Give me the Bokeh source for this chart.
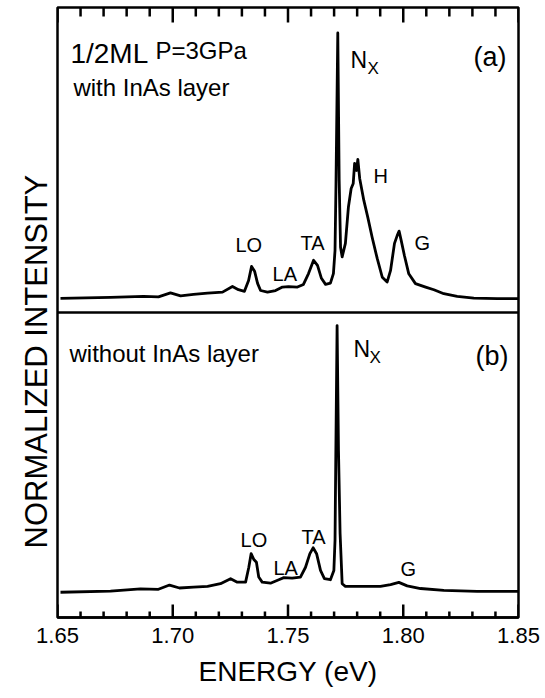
from bokeh.plotting import figure
from bokeh.models import Range1d, Span, Label, Title, FixedTicker, NumeralTickFormatter
from bokeh.embed import file_html
from bokeh.resources import INLINE

# Photoluminescence spectra at P = 3 GPa, normalized to the N_X line.
# (a) sample with a 1/2 ML InAs layer
energy_a = [1.6513, 1.6730, 1.6873, 1.6938, 1.6990, 1.7034, 1.7090, 1.7151, 1.7216,
            1.7259, 1.7285, 1.7311, 1.7329, 1.7342, 1.7355, 1.7368, 1.7381, 1.7411,
            1.7446, 1.7476, 1.7502, 1.7541, 1.7567, 1.7589, 1.7611, 1.7628, 1.7645,
            1.7663, 1.7684, 1.7697, 1.7704, 1.7708, 1.7716, 1.7722, 1.7728, 1.7735,
            1.7749, 1.7762, 1.7774, 1.7783, 1.7789, 1.7797, 1.7803, 1.7811, 1.7829,
            1.7846, 1.7865, 1.7887, 1.7909, 1.7930, 1.7945, 1.7962, 1.7974, 1.7982,
            1.7991, 1.8005, 1.8024, 1.8053, 1.8097, 1.8133, 1.8176, 1.8234, 1.8306,
            1.8408, 1.8500]
intensity_a = [-0.002, 0.002, 0.006, 0.004, 0.019, 0.008, 0.013, 0.018, 0.022,
               0.043, 0.031, 0.025, 0.066, 0.119, 0.101, 0.055, 0.028, 0.022,
               0.028, 0.041, 0.043, 0.041, 0.051, 0.092, 0.142, 0.123, 0.074,
               0.051, 0.056, 0.092, 0.179, 0.417, 1.000, 0.443, 0.191, 0.155,
               0.206, 0.342, 0.413, 0.432, 0.508, 0.481, 0.523, 0.451, 0.368,
               0.305, 0.229, 0.149, 0.078, 0.060, 0.104, 0.206, 0.236, 0.252,
               0.217, 0.160, 0.091, 0.054, 0.041, 0.031, 0.016, 0.006, -0.001,
               -0.003, -0.003]

# (b) reference sample without the InAs layer
energy_b = [1.6513, 1.6730, 1.6860, 1.6938, 1.6986, 1.7029, 1.7090, 1.7151, 1.7207,
            1.7251, 1.7280, 1.7316, 1.7330, 1.7340, 1.7352, 1.7363, 1.7373, 1.7388,
            1.7424, 1.7460, 1.7482, 1.7518, 1.7554, 1.7576, 1.7595, 1.7609, 1.7624,
            1.7641, 1.7658, 1.7684, 1.7699, 1.7704, 1.7707, 1.7713, 1.7719, 1.7726,
            1.7735, 1.7749, 1.7815, 1.7901, 1.7945, 1.7981, 1.8017, 1.8075, 1.8176,
            1.8321, 1.8500]
intensity_b = [-0.003, 0.001, 0.010, 0.008, 0.024, 0.013, 0.016, 0.019, 0.029,
               0.048, 0.035, 0.035, 0.091, 0.142, 0.120, 0.110, 0.054, 0.035,
               0.031, 0.044, 0.052, 0.050, 0.054, 0.091, 0.142, 0.164, 0.142,
               0.079, 0.048, 0.044, 0.079, 0.192, 0.474, 1.000, 0.530, 0.218,
               0.029, 0.019, 0.019, 0.019, 0.026, 0.034, 0.021, 0.011, 0.004,
               0.000, 0.000]

energy_ticks = [1.65, 1.70, 1.75, 1.80, 1.85]
energy_minor = [round(1.65 + 0.01 * i, 2) for i in range(21) if i % 5]

# Vertical extent of each panel in its own intensity units
panel_b = (-0.098, 1.049)
panel_a = (-0.055, 1.096)

FONT = "Liberation Sans"
FRAME_H = 698 - 7 - 81  # frame height in pixels

span_b = panel_b[1] - panel_b[0]
span_a = panel_a[1] - panel_a[0]
px_b = 2 * span_b / FRAME_H   # one pixel in bottom-panel units
px_a = 2 * span_a / FRAME_H   # one pixel in top-panel units

p = figure(width=545, height=698, output_backend="svg", toolbar_location=None,
           x_range=Range1d(1.65, 1.85),
           y_range=Range1d(panel_b[0], panel_b[0] + 2 * span_b),
           min_border_left=57, min_border_right=27, min_border_top=7, min_border_bottom=81)
p.extra_y_ranges = {"top": Range1d(panel_a[0] - span_a, panel_a[1])}

p.xgrid.visible = False
p.ygrid.visible = False
p.outline_line_color = "black"
p.outline_line_width = 2.5
p.background_fill_color = "white"
p.border_fill_color = "white"

# bottom energy axis
xa = p.xaxis[0]
xa.ticker = FixedTicker(ticks=energy_ticks, minor_ticks=[])
xa.formatter = NumeralTickFormatter(format="0.00")
xa.major_tick_in = 0
xa.major_tick_out = 0
xa.minor_tick_in = 0
xa.minor_tick_out = 0
xa.axis_line_width = 2.5
xa.major_label_standoff = 10
xa.major_label_text_font = FONT
xa.major_label_text_font_size = "22px"
xa.major_label_text_color = "black"
xa.axis_label = "ENERGY (eV)"
xa.axis_label_text_font = FONT
xa.axis_label_text_font_size = "28px"
xa.axis_label_text_font_style = "normal"
xa.axis_label_text_color = "black"
xa.axis_label_standoff = 10

# left axis carries no ticks or labels; it only keeps a gap between frame and title
ya = p.yaxis[0]
ya.ticker = FixedTicker(ticks=[])
ya.major_tick_in = 0
ya.major_tick_out = 10
ya.minor_tick_in = 0
ya.minor_tick_out = 0
ya.major_tick_line_color = None
ya.minor_tick_line_color = None
ya.axis_line_color = None
ya.major_label_standoff = 0

# shared vertical title to the left of both panels
p.add_layout(Title(text="NORMALIZED INTENSITY", align="left", offset=69, standoff=8,
                   text_font=FONT, text_font_size="31px", text_font_style="normal",
                   text_color="black"), "left")


def edge_ticks(xs, length_px, edge):
    """Inward tick marks along the bottom ("b") or top ("a") edge, kept inside the frame."""
    n = len(xs)
    if edge == "b":
        y0 = panel_b[0] + 0.5 * px_b
        y1 = panel_b[0] + length_px * px_b
        kw = {}
    else:
        y0 = panel_a[1] - 0.5 * px_a
        y1 = panel_a[1] - length_px * px_a
        kw = {"y_range_name": "top"}
    p.segment(x0=xs, y0=[y0] * n, x1=xs, y1=[y1] * n, line_color="black",
              line_width=2.5, **kw)


edge_ticks(energy_ticks, 13, "b")
edge_ticks(energy_minor, 6, "b")
edge_ticks(energy_ticks, 15, "a")
edge_ticks(energy_minor, 9, "a")

# divider between the two panels
p.add_layout(Span(location=panel_b[1], dimension="width", line_color="black", line_width=2.5))

p.line(energy_a, intensity_a, y_range_name="top", line_color="black", line_width=2.8,
       line_join="round")
p.line(energy_b, intensity_b, line_color="black", line_width=2.8, line_join="round")


def add_text(x, y, text, size, panel):
    kw = {"y_range_name": "top"} if panel == "a" else {}
    p.add_layout(Label(x=x, y=y, text=text, text_font=FONT, text_font_size=size,
                       text_color="black", text_baseline="alphabetic", text_align="left",
                       **kw))


# panel (a) annotations
add_text(1.6556, 0.923, "1/2ML", "28px", "a")
add_text(1.6925, 0.934, "P=3GPa", "24px", "a")
add_text(1.6569, 0.794, "with InAs layer", "24px", "a")
add_text(1.8305, 0.908, "(a)", "27px", "a")
add_text(1.7771, 0.896, "N", "23px", "a")
add_text(1.7845, 0.866, "X", "17px", "a")
add_text(1.7272, 0.198, "LO", "20px", "a")
add_text(1.7433, 0.092, "LA", "20px", "a")
add_text(1.7554, 0.206, "TA", "20px", "a")
add_text(1.7871, 0.462, "H", "20px", "a")
add_text(1.8049, 0.206, "G", "20px", "a")

# panel (b) annotations
add_text(1.6552, 0.895, "without InAs layer", "24px", "b")
add_text(1.8313, 0.887, "(b)", "27px", "b")
add_text(1.7784, 0.910, "N", "23px", "b")
add_text(1.7854, 0.880, "X", "17px", "b")
add_text(1.7294, 0.195, "LO", "20px", "b")
add_text(1.7437, 0.090, "LA", "20px", "b")
add_text(1.7559, 0.203, "TA", "20px", "b")
add_text(1.7988, 0.086, "G", "20px", "b")

open("out.html", "w").write(file_html(p, INLINE))
